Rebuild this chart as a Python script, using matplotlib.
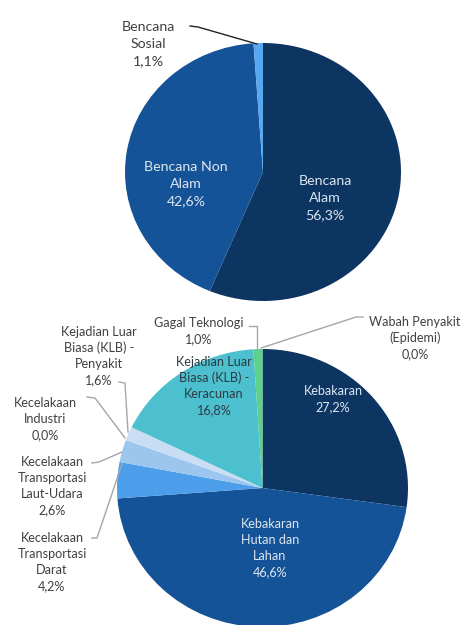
import matplotlib
matplotlib.use("Agg")
import matplotlib.pyplot as plt
from matplotlib.lines import Line2D

W, H = 465, 625

# ---------------- data ----------------
top_labels = ["Bencana\nAlam", "Bencana Non\nAlam", "Bencana\nSosial"]
top_values = [56.3, 42.6, 1.1]
top_colors = ["#0C3562", "#155398", "#58A8F0"]

bot_labels = [
    "Kebakaran",
    "Kebakaran\nHutan dan\nLahan",
    "Kecelakaan\nTransportasi\nDarat",
    "Kecelakaan\nTransportasi\nLaut-Udara",
    "Kecelakaan\nIndustri",
    "Kejadian Luar\nBiasa (KLB) -\nPenyakit",
    "Kejadian Luar\nBiasa (KLB) -\nKeracunan",
    "Gagal Teknologi",
    "Wabah Penyakit\n(Epidemi)",
]
bot_values = [27.2, 46.6, 4.2, 2.6, 0.0, 1.6, 16.8, 1.0, 0.0]
bot_colors = ["#0C3562", "#155398", "#4C9EEA", "#9DC6EF", "#B7D4F2",
              "#C9DEF5", "#4CC0CE", "#5FCF8C", "#7FD6A0"]


def pct(v):
    return f"{v:.1f}".replace(".", ",") + "%"


plt.rcParams["font.family"] = ["Lato", "DejaVu Sans"]
fig = plt.figure(figsize=(W / 100, H / 100), dpi=100)


def axes_box(cx, cy, rx, ry):
    return [(cx - rx) / W, (H - (cy + ry)) / H, 2 * rx / W, 2 * ry / H]


def fx(x):
    return x / W


def fy(y):
    return 1 - y / H


# ---------------- top pie ----------------
ax1 = fig.add_axes(axes_box(263, 172, 138, 129))
ax1.pie(top_values, colors=top_colors, startangle=90, counterclock=False,
        radius=1, wedgeprops=dict(linewidth=0))
ax1.set_aspect("auto")
ax1.set_xlim(-1, 1)
ax1.set_ylim(-1, 1)
ax1.axis("off")

light = "#DDE6F0"
dark = "#404040"
fs_top = 10.2
ls_top = 1.5
fig.text(fx(325), fy(198), f"{top_labels[0]}\n{pct(top_values[0])}", ha="center",
         va="center", color=light, fontsize=fs_top, linespacing=ls_top)
fig.text(fx(186), fy(184), f"{top_labels[1]}\n{pct(top_values[1])}", ha="center",
         va="center", color=light, fontsize=fs_top, linespacing=ls_top)
fig.text(fx(148), fy(44), f"{top_labels[2]}\n{pct(top_values[2])}", ha="center",
         va="center", color=dark, fontsize=fs_top, linespacing=ls_top)
fig.add_artist(Line2D([fx(190), fx(198), fx(257)], [fy(26), fy(27), fy(44)],
                      color="#222222", linewidth=1.0, transform=fig.transFigure))

# ---------------- bottom pie ----------------
ax2 = fig.add_axes(axes_box(262.5, 488, 145.5, 139))
ax2.pie(bot_values, colors=bot_colors, startangle=90, counterclock=False,
        radius=1, wedgeprops=dict(linewidth=0))
ax2.set_aspect("auto")
ax2.set_xlim(-1, 1)
ax2.set_ylim(-1, 1)
ax2.axis("off")

fs_b = 9.1
ls_b = 1.38
# inside labels
fig.text(fx(333), fy(399), f"{bot_labels[0]}\n{pct(bot_values[0])}", ha="center",
         va="center", color=light, fontsize=fs_b, linespacing=ls_b)
fig.text(fx(270), fy(548), f"{bot_labels[1]}\n{pct(bot_values[1])}", ha="center",
         va="center", color=light, fontsize=fs_b, linespacing=ls_b)
fig.text(fx(214), fy(386), f"{bot_labels[6]}\n{pct(bot_values[6])}", ha="center",
         va="center", color="#2E3A44", fontsize=fs_b, linespacing=ls_b)

# outside labels
outside = [
    (2, 52, 562),
    (3, 52, 486),
    (4, 45, 419),
    (5, 99, 356),
    (7, 199, 331),
    (8, 415, 338),
]
for i, x, y in outside:
    fig.text(fx(x), fy(y), f"{bot_labels[i]}\n{pct(bot_values[i])}", ha="center",
             va="center", color=dark, fontsize=fs_b, linespacing=ls_b)

leaders = [
    [(92, 538), (97, 538), (122, 464)],     # Darat
    [(92, 463), (99, 462), (122, 452)],     # Laut-Udara
    [(87, 397), (95, 398), (125, 438)],     # Industri
    [(119, 382), (125, 383), (128, 432)],   # KLB Penyakit
    [(249, 326), (257, 326), (257, 349)],   # Gagal Teknologi
    [(363, 317), (356, 317), (261, 348)],   # Wabah
]
for pts in leaders:
    xs = [fx(p[0]) for p in pts]
    ys = [fy(p[1]) for p in pts]
    fig.add_artist(Line2D(xs, ys, color="#A6A6A6", linewidth=1.0,
                          transform=fig.transFigure))

fig.savefig("out.png", dpi=100, facecolor="white")
